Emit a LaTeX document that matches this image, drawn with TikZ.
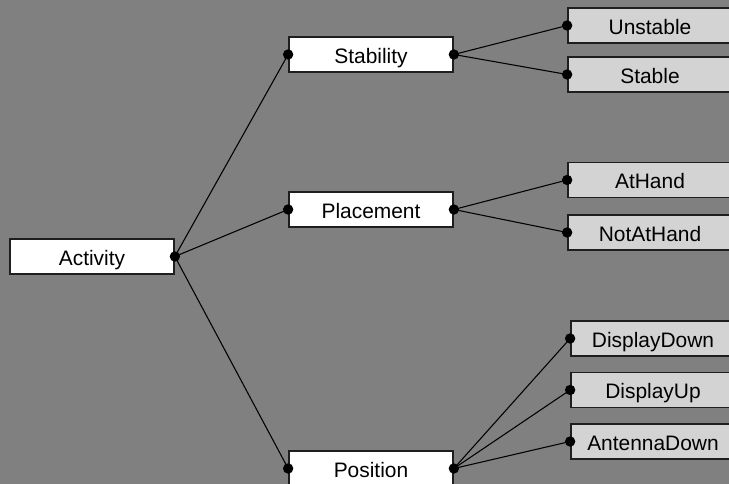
\documentclass[tikz,border=0pt]{standalone}
\usepackage{fontspec}
\setmainfont{Liberation Sans}
\usepackage{xcolor}
\definecolor{bggray}{RGB}{128,128,128}
\definecolor{leafgray}{RGB}{211,211,211}
\definecolor{edgegray}{RGB}{30,30,30}
\tikzset{
  featbox/.style={draw=edgegray, line width=1.3pt, fill=white, minimum width=123pt,
    minimum height=26.25pt, inner sep=0pt, text height=13pt, text depth=0pt,
    font=\fontsize{15.7}{18}\selectfont},
  leafbox/.style={featbox, fill=leafgray},
  link/.style={line width=0.8pt},
  dot/.style={fill=black, draw=none, radius=3.9pt}
}
\begin{document}
\begin{tikzpicture}[x=0.75pt,y=0.75pt]
        % Background
        \fill[bggray] (0,0) rectangle (729,484);
        \useasboundingbox (0,0) rectangle (729,484);
        \clip (0,0) rectangle (729,484);

        % Root
        \node[featbox] (activity) at (92,227.5) {Activity};

        % Features
        \node[featbox] (stability) at (371,429.5) {Stability};
        \node[featbox] (placement) at (371,274.5) {Placement};
        \node[featbox] (position) at (371,15.5) {Position};

        % Stability values
        \node[leafbox] (unstable) at (650,458.5) {Unstable};
        \node[leafbox] (stable) at (650,409.5) {Stable};

        % Placement values
        \node[leafbox] (athand) at (650,304) {AtHand};
        \node[leafbox] (notathand) at (650,251.5) {NotAtHand};

        % Position values
        \node[leafbox] (displaydown) at (653,145.5) {DisplayDown};
        \node[leafbox] (displayup) at (653,94) {DisplayUp};
        \node[leafbox] (antennadown) at (653,42.5) {AntennaDown};

        % Links
        \foreach \a/\b in {activity/stability, activity/placement, activity/position,
            stability/unstable, stability/stable, placement/athand, placement/notathand,
            position/displaydown, position/displayup, position/antennadown}
          \draw[link] (\a.east) -- (\b.west);

        % Dots
        \foreach \n in {activity, stability, placement, position}
          \fill[dot] (\n.east) circle;
        \foreach \n in {stability, placement, position, unstable, stable, athand,
            notathand, displaydown, displayup, antennadown}
          \fill[dot] (\n.west) circle;
\end{tikzpicture}
\end{document}
